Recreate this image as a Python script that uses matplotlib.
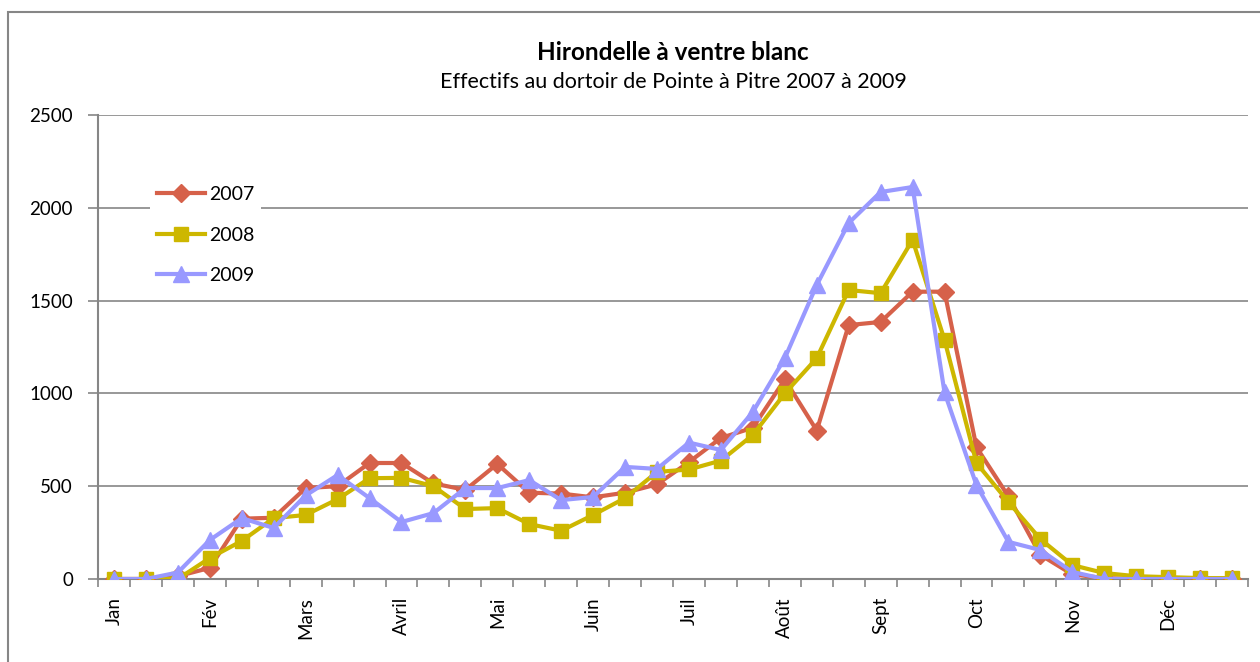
import matplotlib.pyplot as plt
import numpy as np
from matplotlib.patches import Rectangle

# 3 relevés par mois (décades), janvier -> décembre
months = ["Jan", "Fév", "Mars", "Avril", "Mai", "Juin",
          "Juil", "Août", "Sept", "Oct", "Nov", "Déc"]

y2007 = [0, 0, 15, 60, 325, 330, 490, 500, 625, 625, 515, 480,
         620, 465, 460, 440, 465, 510, 630, 760, 815, 1075,
         800, 1368, 1385, 1548, 1548, 710, 445, 130, 25, 5,
         0, 0, 0, 0]
y2008 = [0, 0, 0, 113, 205, 328, 345, 430, 543, 545, 500, 377,
         382, 296, 260, 345, 436, 577, 590, 638, 776, 1000,
         1190, 1557, 1540, 1827, 1288, 625, 415, 215, 75, 32,
         15, 10, 5, 5]
y2009 = [0, 0, 35, 210, 328, 275, 450, 560, 436, 307, 355, 490,
         490, 533, 425, 442, 604, 593, 735, 695, 900, 1190,
         1584, 1918, 2085, 2112, 1005, 506, 200, 156, 38, 0,
         0, 0, 0, 0]

series = [
    ("2007", y2007, "#D6614A", "D", 9.5),
    ("2008", y2008, "#CDB700", "s", 10.5),
    ("2009", y2009, "#9999FF", "^", 11.5),
]

plt.rcParams["font.family"] = ["Lato", "DejaVu Sans"]
grey = "#868686"

fig = plt.figure(figsize=(12.6, 6.62), dpi=100)
ax = fig.add_axes([98 / 1260, 1 - 579 / 662, 1150 / 1260, 464 / 662])

x = np.arange(len(y2007))
for label, vals, color, marker, ms in series:
    ax.plot(x, vals, color=color, lw=3, marker=marker, ms=ms,
            mec=color, mfc=color, label=label, zorder=3)

ax.set_xlim(-0.5, len(x) - 0.5)
ax.set_ylim(0, 2500)
ax.set_yticks(np.arange(0, 2501, 500))
ax.yaxis.grid(True, color=grey, lw=1.2)
ax.set_axisbelow(True)

ax.set_xticks(np.arange(0, len(x), 3))
ax.set_xticklabels(months, rotation=90, fontsize=13.5)
ax.set_xticks(np.arange(-0.5, len(x), 1), minor=True)
ax.tick_params(axis="x", which="major", length=0, pad=13)
ax.tick_params(axis="x", which="minor", length=6, width=1.2, color=grey)
ax.tick_params(axis="y", length=7, width=1.2, color=grey, labelsize=13.5,
               pad=11)

for s in ["top", "right"]:
    ax.spines[s].set_visible(False)
for s in ["left", "bottom"]:
    ax.spines[s].set_color(grey)
    ax.spines[s].set_linewidth(1.5)

ax.text(0.5, 1 + 63 / 464, "Hirondelle à ventre blanc",
        transform=ax.transAxes, ha="center", va="center", fontsize=17.5,
        fontweight="bold")
ax.text(0.5, 1 + 33 / 464, "Effectifs au dortoir de Pointe à Pitre 2007 à 2009",
        transform=ax.transAxes, ha="center", va="center", fontsize=15.5)

leg = ax.legend(loc="upper left", bbox_to_anchor=(0.045, 0.861), fontsize=14,
                frameon=True, fancybox=False, edgecolor="none",
                facecolor="white", framealpha=1, labelspacing=1.2,
                handlelength=2.5, handletextpad=0.2, borderpad=0.35,
                borderaxespad=0)

# cadre gris autour du graphique
fig.patches.append(Rectangle((8 / 1260, -0.1), 1.2, (662 - 12) / 662 + 0.1,
                             transform=fig.transFigure, fill=False,
                             edgecolor=grey, lw=1.5))

fig.savefig("out.png", dpi=100, facecolor="white")
